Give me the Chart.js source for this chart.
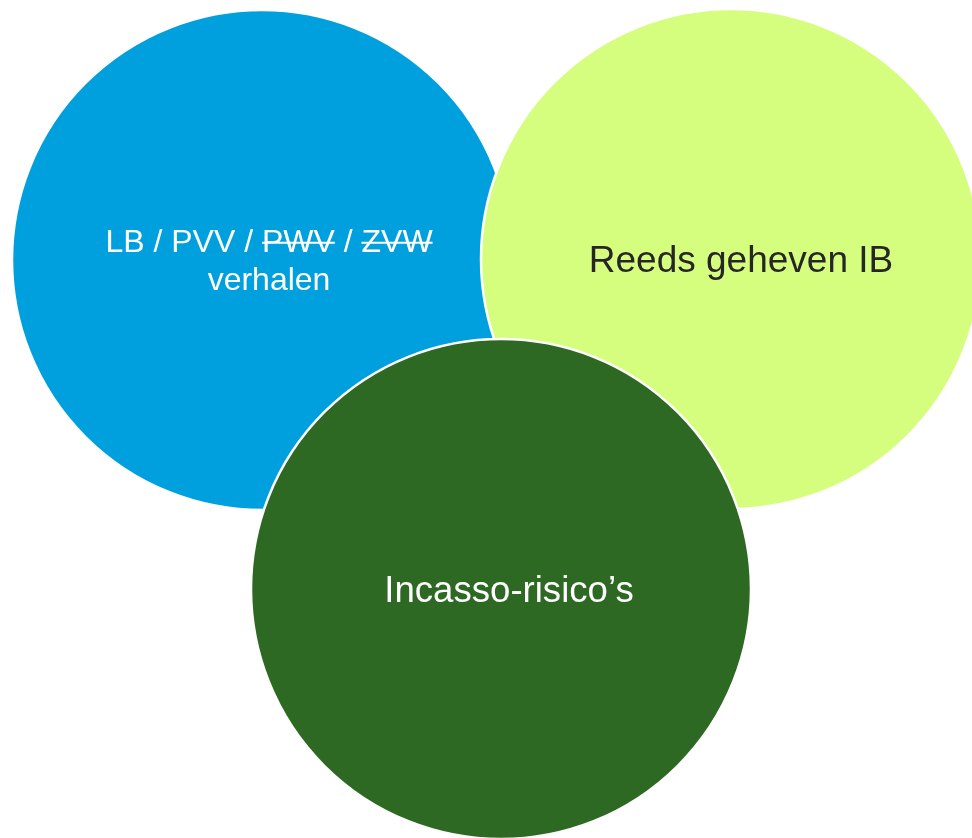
<!DOCTYPE html>
<html>
<head>
<meta charset="utf-8">
<script src="https://cdn.jsdelivr.net/npm/chart.js@4.4.1/dist/chart.umd.min.js"></script>
<style>
  html, body { margin: 0; padding: 0; background: #ffffff; }
  #wrap { width: 972px; height: 838px; }
</style>
</head>
<body>
<div id="wrap"><canvas id="chart" width="972" height="838"></canvas></div>
<script>
// circles (drawn in this order, last on top)
var circleNames = ["LB / PVV / PWV / ZVW verhalen", "Reeds geheven IB", "Incasso-risico's"];
var circleX = [262, 731, 501];
var circleY = [260, 259, 589];
var circleR = [250, 250, 250];

// text lines per circle, words marked with ~ are struck through
var circleText = [
    [["LB / PVV / ", "~PWV", " / ", "~ZVW"], ["verhalen"]],
    [["Reeds geheven IB"]],
    [["Incasso-risico\u2019s"]]
];

var fills = ["#00a0de", "#d6fe7e", "#2e6923"];
var textColors = ["#ffffff", "#262626", "#ffffff"];
var fontSizes = [32, 37, 36.6];
var textOffsets = [[7, -8], [10, 13], [8, 13]];

var points = [];
for (var i = 0; i < circleNames.length; i++) {
    points.push({ x: circleX[i], y: circleY[i], r: circleR[i] });
}

var labelPlugin = {
    id: 'circleLabels',
    afterDatasetsDraw: function(chart) {
        var ctx = chart.ctx;
        var meta = chart.getDatasetMeta(0);
        ctx.save();
        meta.data.forEach(function(el, i) {
            var size = fontSizes[i];
            ctx.font = size + 'px "Liberation Sans", Arial, sans-serif';
            ctx.fillStyle = textColors[i];
            ctx.strokeStyle = textColors[i];
            ctx.textBaseline = 'alphabetic';
            ctx.textAlign = 'left';
            var lines = circleText[i];
            var lineH = size * 1.19;
            var cx = el.x + textOffsets[i][0];
            var base = el.y + textOffsets[i][1];
            lines.forEach(function(parts, j) {
                var total = 0;
                parts.forEach(function(p) { total += ctx.measureText(p.replace('~', '')).width; });
                var x = cx - total / 2;
                var y = base + j * lineH;
                parts.forEach(function(p) {
                    var strike = p.charAt(0) == '~';
                    var t = p.replace('~', '');
                    var w = ctx.measureText(t).width;
                    ctx.fillText(t, x, y);
                    if (strike) {
                        ctx.lineWidth = 2;
                        ctx.beginPath();
                        ctx.moveTo(x, y - size * 0.29);
                        ctx.lineTo(x + w, y - size * 0.29);
                        ctx.stroke();
                    }
                    x += w;
                });
            });
        });
        ctx.restore();
    }
};

var ctx = document.getElementById("chart").getContext('2d');
var myChart = new Chart(ctx, {
    type: 'bubble',
    data: {
        labels: circleNames,
        datasets: [{
            data: points,
            backgroundColor: fills,
            borderColor: "#ffffff",
            borderWidth: 2.5,
            hoverRadius: 0,
            clip: false
        }]
    },
    options: {
        responsive: false,
        animation: false,
        events: [],
        layout: { padding: 0, autoPadding: false },
        scales: {
            x: { type: 'linear', display: false, min: 0, max: 972 },
            y: { type: 'linear', display: false, min: 0, max: 838, reverse: true }
        },
        plugins: {
            legend: { display: false },
            tooltip: { enabled: false }
        }
    },
    plugins: [labelPlugin]
});
</script>
</body>
</html>
